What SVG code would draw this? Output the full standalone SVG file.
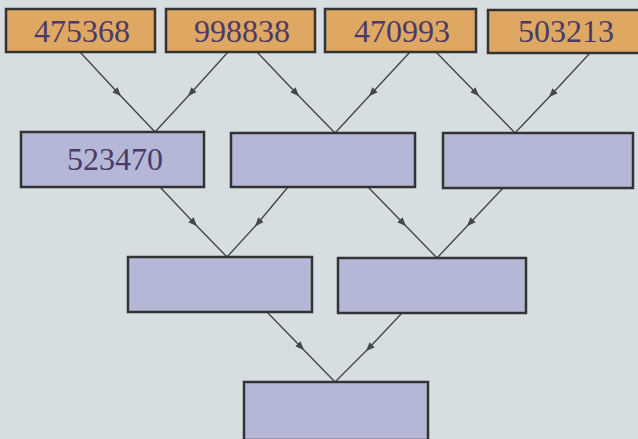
<svg xmlns="http://www.w3.org/2000/svg" width="638" height="439" viewBox="0 0 638 439">
<style>
.top{fill:#dfa862;stroke:#333333;stroke-width:2.5}
.mid{fill:#b4b8d6;stroke:#333333;stroke-width:2.5}
.t{font-family:"Liberation Serif",serif;font-size:32px;fill:#4b3a68;text-anchor:middle}
.c{fill:none;stroke:#474747;stroke-width:1.4}
</style>
<defs>
<marker id="ah" viewBox="0 0 10 10" refX="5" refY="5" markerWidth="9" markerHeight="9" markerUnits="userSpaceOnUse" orient="auto">
<path d="M0,1 L10,5 L0,9 Z" fill="#474747"/>
</marker>
</defs>
<rect width="638" height="439" fill="#d7dee1"/>
<g id="connectors">
<polyline class="c" marker-mid="url(#ah)" points="80,52 118,93 155,132"/>
<polyline class="c" marker-mid="url(#ah)" points="228,52 191,93 155,132"/>
<polyline class="c" marker-mid="url(#ah)" points="257,52 296,93 335,133"/>
<polyline class="c" marker-mid="url(#ah)" points="410,52 372,93 335,133"/>
<polyline class="c" marker-mid="url(#ah)" points="436,52 476,93 515,133"/>
<polyline class="c" marker-mid="url(#ah)" points="590,53 552,94 515,133"/>
<polyline class="c" marker-mid="url(#ah)" points="160,187 194,223 227,257"/>
<polyline class="c" marker-mid="url(#ah)" points="288,187 258,223 227,257"/>
<polyline class="c" marker-mid="url(#ah)" points="368,187 403,223 437,258"/>
<polyline class="c" marker-mid="url(#ah)" points="503,188 470,223 437,258"/>
<polyline class="c" marker-mid="url(#ah)" points="267,312 301,347 335,382"/>
<polyline class="c" marker-mid="url(#ah)" points="402,313 369,348 335,382"/>
</g>
<g id="n1"><rect class="top" x="6" y="9" width="149" height="43"/><text class="t" x="82" y="42">475368</text></g>
<g id="n2"><rect class="top" x="166" y="9" width="149" height="43"/><text class="t" x="242" y="42">998838</text></g>
<g id="n3"><rect class="top" x="325" y="9" width="151" height="43"/><text class="t" x="402" y="42">470993</text></g>
<g id="n4"><rect class="top" x="488" y="10" width="152" height="43"/><text class="t" x="566" y="42">503213</text></g>
<g id="n5"><rect class="mid" x="21" y="132" width="183" height="55"/><text class="t" x="115" y="170">523470</text></g>
<g id="n6"><rect class="mid" x="231" y="133" width="184" height="54"/></g>
<g id="n7"><rect class="mid" x="443" y="133" width="190" height="55"/></g>
<g id="n8"><rect class="mid" x="128" y="257" width="184" height="55"/></g>
<g id="n9"><rect class="mid" x="338" y="258" width="188" height="55"/></g>
<g id="n10"><rect class="mid" x="244" y="382" width="184" height="58"/></g>
</svg>
